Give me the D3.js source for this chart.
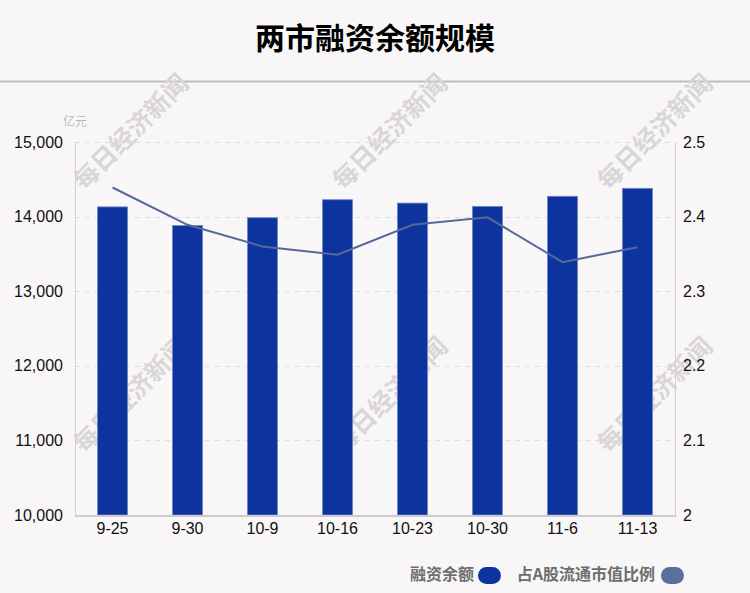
<!DOCTYPE html>
<html><head><meta charset="utf-8">
<script src="https://cdn.jsdelivr.net/npm/d3@7/dist/d3.min.js"></script>
<style>
body{margin:0;background:#f9f6f7;}
svg{display:block;}
text{font-family:"Liberation Sans",Arial,"Noto Sans CJK SC",sans-serif;}
</style></head>
<body><svg id="c" width="750" height="593"></svg>
<script>
const categories = ["9-25","9-30","10-9","10-16","10-23","10-30","11-6","11-13"];
const balance = [14130,13880,13985,14226,14181,14137,14272,14379];
const ratio = [2.439,2.389,2.360,2.349,2.389,2.399,2.339,2.359];
const leftTicks = [10000,11000,12000,13000,14000,15000];
const rightTicks = [2,2.1,2.2,2.3,2.4,2.5];

const svg = d3.select("#c");
const W=750,H=593;
svg.append("rect").attr("width",W).attr("height",H).attr("fill","#f9f6f7");

const m={l:75,r:675,t:142,b:515};
const x=d3.scaleBand().domain(categories).range([m.l,m.r]).paddingInner(0.6).paddingOuter(0.3);
const xc=d3.scaleBand().domain(categories).range([m.l,m.r]);
const yL=d3.scaleLinear().domain([10000,15000]).range([m.b,m.t]);
const yR=d3.scaleLinear().domain([2,2.5]).range([m.b,m.t]);

// title
svg.append("text").attr("x",W/2).attr("y",49).attr("text-anchor","middle")
  .attr("font-size",30).attr("font-weight","bold").attr("fill","#000")
  .style("font-family","'Noto Sans CJK SC',sans-serif").text("两市融资余额规模");
svg.append("line").attr("x1",0).attr("x2",W).attr("y1",81.5).attr("y2",81.5).attr("stroke","#bdbdbd").attr("stroke-width",2);

// watermarks
const wm=[[131,132],[390,132],[655,132],[131,395],[390,395],[655,395]];
svg.append("g").selectAll("text").data(wm).join("text")
  .attr("transform",d=>`translate(${d[0]},${d[1]}) rotate(-45)`)
  .attr("text-anchor","middle").attr("dy","0.35em")
  .attr("font-size",25).attr("font-weight","bold").attr("fill","#d9d6d7")
  .style("font-family","'Noto Sans CJK SC',sans-serif")
  .text("每日经济新闻");

// gridlines
svg.append("g").selectAll("line").data(leftTicks.slice(1)).join("line")
  .attr("x1",m.l).attr("x2",m.r).attr("y1",d=>Math.round(yL(d))+0.5).attr("y2",d=>Math.round(yL(d))+0.5)
  .attr("stroke","#e0dcdd").attr("stroke-dasharray","5,5");

// axes lines
svg.append("line").attr("x1",m.l+0.5).attr("x2",m.l+0.5).attr("y1",m.t).attr("y2",m.b).attr("stroke","#d4d0d1");
svg.append("line").attr("x1",m.r+0.5).attr("x2",m.r+0.5).attr("y1",m.t).attr("y2",m.b).attr("stroke","#d4d0d1");

// bars
svg.append("g").selectAll("rect").data(balance).join("rect")
  .attr("x",(d,i)=>x(categories[i])).attr("width",x.bandwidth())
  .attr("y",d=>yL(d)).attr("height",d=>m.b-yL(d))
  .attr("fill","#0d349e").attr("stroke","#6d86cc").attr("stroke-width",0.8);

svg.append("line").attr("x1",m.l).attr("x2",m.r+1).attr("y1",m.b+1).attr("y2",m.b+1).attr("stroke","#cfcbcc").attr("stroke-width",2);

// line
const line=d3.line().x((d,i)=>xc(categories[i])+xc.bandwidth()/2).y(d=>yR(d));
svg.append("path").datum(ratio).attr("d",line).attr("fill","none").attr("stroke","#556a9a").attr("stroke-width",2);

// left axis
const gl=svg.append("g").attr("transform",`translate(${m.l},0)`)
  .call(d3.axisLeft(yL).tickValues(leftTicks).tickFormat(d3.format(",")).tickSize(0).tickPadding(12));
gl.select(".domain").remove();
gl.selectAll("text").attr("font-size",16).attr("fill","#111").style("font-family","'Liberation Sans',Arial,sans-serif");

// right axis
const gr=svg.append("g").attr("transform",`translate(${m.r},0)`)
  .call(d3.axisRight(yR).tickValues(rightTicks).tickFormat(d=>d3.format("")(d)).tickSize(0).tickPadding(8));
gr.select(".domain").remove();
gr.selectAll("text").attr("font-size",16).attr("fill","#111").style("font-family","'Liberation Sans',Arial,sans-serif");

// x axis
const gx=svg.append("g").attr("transform",`translate(0,${m.b})`)
  .call(d3.axisBottom(xc).tickSize(0).tickPadding(8));
gx.select(".domain").remove();
gx.selectAll("text").attr("font-size",16).attr("fill","#111").style("font-family","'Liberation Sans',Arial,sans-serif");

// unit
svg.append("text").attr("x",63).attr("y",126).attr("font-size",12).attr("fill","#bdbabb")
  .style("font-family","'Noto Sans CJK SC',sans-serif").text("亿元");

// legend
const leg=[{t:"融资余额",c:"#0d349e",tx:474,cx:489.5},{t:"占A股流通市值比例",c:"#5b6f9c",tx:655,cx:672.5}];
const lg=svg.append("g");
lg.selectAll("text").data(leg).join("text").attr("x",d=>d.tx).attr("y",580).attr("text-anchor","end")
  .attr("font-size",16).attr("font-weight","bold").attr("fill","#6d6d6d")
  .style("font-family","'Noto Sans CJK SC',sans-serif").text(d=>d.t);
lg.selectAll("rect").data(leg).join("rect").attr("x",d=>d.cx-11.5).attr("y",567).attr("width",23).attr("height",17)
  .attr("rx",8.5).attr("fill",d=>d.c);
</script></body></html>
